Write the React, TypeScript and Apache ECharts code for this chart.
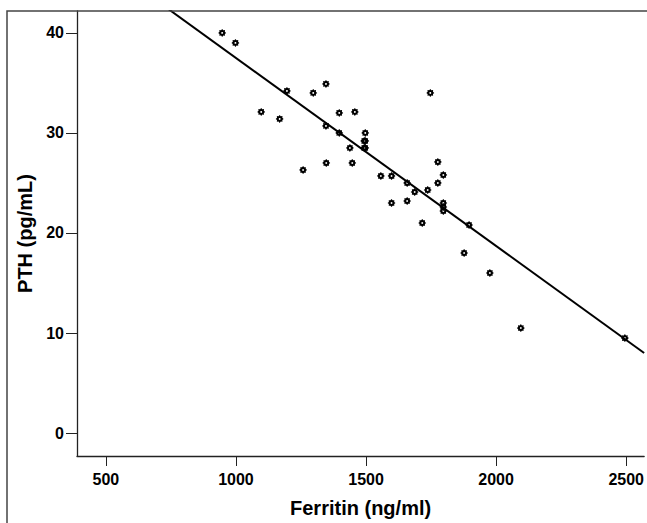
import React, { useEffect, useRef } from "react";
import * as echarts from "echarts";

const ferritin = [947, 998, 1097, 1168, 1196, 1297, 1346, 1346, 1397, 1397, 1457, 1347, 1258, 1438, 1447, 1497, 1493, 1497, 1493, 1497, 1557, 1598, 1598, 1658, 1658, 1687, 1737, 1716, 1747, 1776, 1797, 1776, 1797, 1797, 1797, 1896, 1877, 1976, 2095, 2495];
const pth = [40.0, 39.0, 32.1, 31.4, 34.2, 34.0, 34.9, 30.7, 32.0, 30.0, 32.1, 27.0, 26.3, 28.5, 27.0, 30.0, 29.2, 29.2, 28.5, 28.5, 25.7, 25.7, 23.0, 25.0, 23.2, 24.1, 24.3, 21.0, 34.0, 27.1, 25.8, 25.0, 23.0, 22.6, 22.2, 20.8, 18.0, 16.0, 10.5, 9.5];
const fitIntercept = 56.3;
const fitSlope = -0.0188;
const xTicks = [500, 1000, 1500, 2000, 2500];
const yTicks = [0, 10, 20, 30, 40];
const xRange = [389, 2569];
const yRange = [-2.29, 42.19];

function markerPath(): string {
  const pts: string[] = [];
  for (let i = 0; i < 16; i++) {
    const a = (i * Math.PI) / 8 - Math.PI / 2;
    const r = i % 2 === 0 ? 10 : 7.2;
    pts.push(`${(10 + r * Math.cos(a)).toFixed(2)} ${(10 + r * Math.sin(a)).toFixed(2)}`);
  }
  let d = "M" + pts.join(" L") + " Z";
  const hole: string[] = [];
  for (let i = 0; i < 12; i++) {
    const a = -(i * Math.PI) / 6;
    hole.push(`${(10 + 2.4 * Math.cos(a)).toFixed(2)} ${(10 + 2.4 * Math.sin(a)).toFixed(2)}`);
  }
  d += " M" + hole.join(" L") + " Z";
  return "path://" + d;
}

export default function App() {
  const ref = useRef<HTMLDivElement>(null);
  useEffect(() => {
    document.body.style.margin = "0";
    const chart = echarts.init(ref.current!, null, { renderer: "svg" });
    const points = ferritin.map((f, i) => [f, pth[i]]);
    const fitLine = xRange.map((x) => [x, fitIntercept + fitSlope * x]);
    const font = "'Liberation Sans', Arial, sans-serif";
    chart.setOption({
      animation: false,
      backgroundColor: "#ffffff",
      grid: { left: 77, top: 11, right: 0, bottom: 66 },
      graphic: [
        {
          type: "rect",
          shape: { x: 7, y: 11, width: 700, height: 600 },
          style: { fill: "none", stroke: "#444", lineWidth: 1.5 },
          z: 100,
        },
      ],
      xAxis: {
        type: "value",
        min: xRange[0],
        max: xRange[1],
        name: "Ferritin (ng/ml)",
        nameLocation: "middle",
        nameGap: 42,
        nameTextStyle: { fontFamily: font, fontWeight: "bold", fontSize: 20, color: "#000" },
        axisLine: { show: true, onZero: false, lineStyle: { color: "#222", width: 1.3 } },
        axisTick: { show: true, length: 10, customValues: xTicks, lineStyle: { color: "#222", width: 1 } },
        axisLabel: {
          customValues: xTicks,
          margin: 15,
          formatter: (v: number) => String(v),
          fontFamily: font,
          fontWeight: "bold",
          fontSize: 16,
          color: "#000",
        },
        splitLine: { show: false },
      },
      yAxis: {
        type: "value",
        min: yRange[0],
        max: yRange[1],
        name: "PTH (pg/mL)",
        nameLocation: "middle",
        nameGap: 39,
        nameTextStyle: { fontFamily: font, fontWeight: "bold", fontSize: 20, color: "#000" },
        axisLine: { show: true, onZero: false, lineStyle: { color: "#222", width: 1.3 } },
        axisTick: { show: true, length: 11, customValues: yTicks, lineStyle: { color: "#222", width: 1 } },
        axisLabel: {
          customValues: yTicks,
          margin: 13,
          formatter: (v: number) => String(v),
          fontFamily: font,
          fontWeight: "bold",
          fontSize: 16,
          color: "#000",
        },
        splitLine: { show: false },
      },
      series: [
        {
          type: "line",
          data: fitLine,
          showSymbol: false,
          symbol: "none",
          clip: true,
          lineStyle: { color: "#000", width: 2 },
          z: 2,
        },
        {
          type: "scatter",
          data: points,
          symbol: markerPath(),
          symbolSize: 8,
          itemStyle: { color: "#000", opacity: 1 },
          z: 3,
        },
      ],
    });
    return () => chart.dispose();
  }, []);
  return <div ref={ref} style={{ width: 647, height: 523, position: "absolute", left: 0, top: 0 }} />;
}
